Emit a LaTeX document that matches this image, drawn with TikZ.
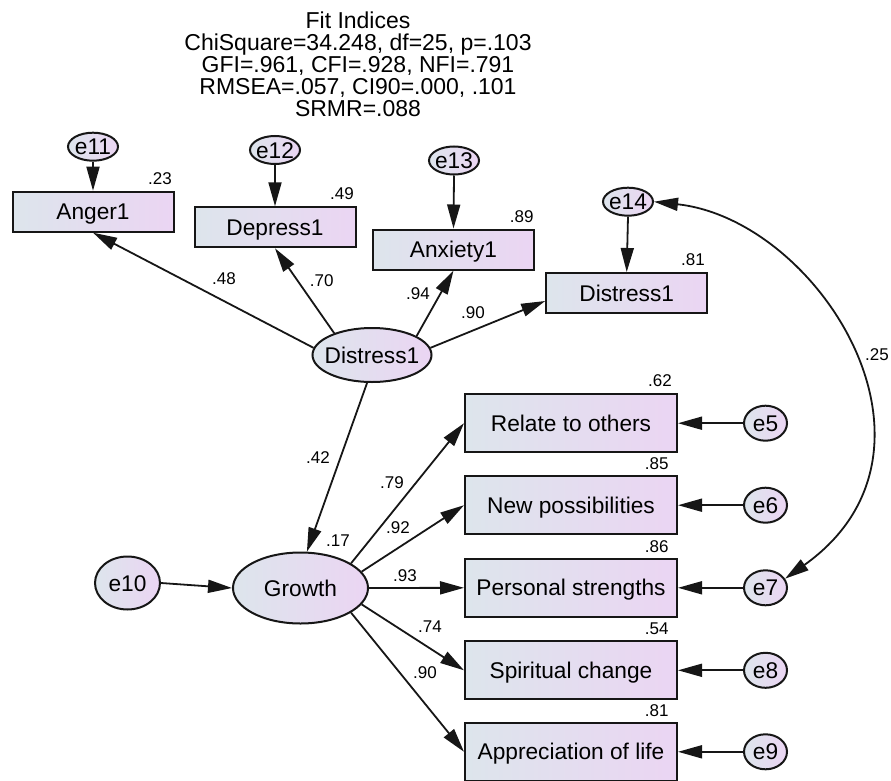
\documentclass[tikz,border=0pt]{standalone}
\usepackage{fontspec}
\setmainfont{Liberation Sans}
\usetikzlibrary{arrows.meta,shapes.geometric}
\definecolor{lnc}{RGB}{22,22,22}
\definecolor{fillL}{RGB}{221,229,236}
\definecolor{fillR}{RGB}{235,213,243}
\newcommand\fbig{\fontsize{22.7}{21.7}\selectfont}
\newcommand\ftitle{\fontsize{23}{22}\selectfont}
\newcommand\fnum{\fontsize{17}{19}\selectfont}
\begin{document}
\begin{tikzpicture}[x=1pt,y=-1pt,
  conn/.style={draw=lnc, line width=1.8pt, -{Triangle[length=24pt,width=13pt]}},
  biconn/.style={draw=lnc, line width=1.8pt, {Triangle[length=24pt,width=13pt]}-{Triangle[length=24pt,width=13pt]}},
  obs/.style={rectangle, draw=lnc, line width=2pt, left color=fillL, right color=fillR, inner sep=0pt, font=\fbig, text height=16.3pt, text depth=0pt},
  topbox/.style={obs, minimum width=161pt, minimum height=40pt},
  rbox/.style={obs, minimum width=212pt, minimum height=57.7pt},
  lat/.style={ellipse, draw=lnc, line width=2pt, left color=fillL, right color=fillR, inner sep=0pt},
  errt/.style={lat, minimum width=50pt, minimum height=28pt},
  errr/.style={lat, minimum width=43pt, minimum height=35pt},
  lbl/.style={font=\fbig, text height=16.3pt, text depth=0pt, inner sep=0pt},
  num/.style={font=\fnum, text height=12.2pt, text depth=0pt, inner sep=0pt},
]
\useasboundingbox (0,0) rectangle (891,781);

% title
\node[font=\ftitle, align=center, inner sep=0pt] (title) at (358,64)
  {Fit Indices\\ChiSquare=34.248, df=25, p=.103\\GFI=.961, CFI=.928, NFI=.791\\RMSEA=.057, CI90=.000, .101\\SRMR=.088};

% top error terms
\node[errt, label={[lbl,name=e11t]center:e11}] (e11) at (93,146.7) {};
\node[errt, label={[lbl,name=e12t]center:e12}] (e12) at (275,150) {};
\node[errt, label={[lbl,name=e13t]center:e13}] (e13) at (454,160.5) {};
\node[errt, label={[lbl,name=e14t]center:e14}] (e14) at (628,201.7) {};

% top indicators
\node[topbox] (anger) at (93,211.7) {Anger1};
\node[topbox] (depress) at (275,227.3) {Depress1};
\node[topbox] (anxiety) at (453.5,249.5) {Anxiety1};
\node[topbox] (dbox) at (626.7,293) {Distress1};

% latent variables
\node[lat, minimum width=119pt, minimum height=54pt, label={[lbl,name=distt]center:Distress1}] (dist) at (372,355) {};
\node[lat, minimum width=135pt, minimum height=71pt, label={[lbl,name=growtht]center:Growth}] (growth) at (300.5,588) {};
\node[lat, minimum width=65pt, minimum height=53pt, label={[lbl,name=e10t]center:e10}] (e10) at (127.5,583) {};

% right indicators
\node[rbox] (relate) at (571,423.2) {Relate to others};
\node[rbox] (newp) at (571,505.2) {New possibilities};
\node[rbox] (pers) at (571,587.8) {Personal strengths};
\node[rbox] (spir) at (571,670.3) {Spiritual change};
\node[rbox] (appr) at (571,751.8) {Appreciation of life};

% right error terms
\node[errr, label={[lbl,name=e5t]center:e5}] (e5) at (765.5,423.2) {};
\node[errr, label={[lbl,name=e6t]center:e6}] (e6) at (765.5,505.2) {};
\node[errr, label={[lbl,name=e7t]center:e7}] (e7) at (765.5,587.8) {};
\node[errr, label={[lbl,name=e8t]center:e8}] (e8) at (765.5,670.3) {};
\node[errr, label={[lbl,name=e9t]center:e9}] (e9) at (765.5,751.8) {};

% connectors
\draw[conn] (e11.south) -- (anger.north);
\draw[conn] (e12.south) -- (depress.north);
\draw[conn] (e13.south) -- (anxiety.north);
\draw[conn] (e14.south) -- (dbox.north);
\draw[conn] (dist.173) -- (anger.south);
\draw[conn] (dist.150) -- (depress.south);
\draw[conn] (dist.23) -- (anxiety.south);
\draw[conn] (dist.7) -- ([yshift=-8pt]dbox.west);
\draw[conn] (dist.-100) -- (growth.80);
\draw[conn] (e10.east) -- (growth.west);
\draw[conn] (growth.26) -- (relate.west);
\draw[conn] (growth.15) -- (newp.west);
\draw[conn] (growth.east) -- (pers.west);
\draw[conn] (growth.-15) -- (spir.west);
\draw[conn] (growth.-26) -- (appr.west);
\draw[conn] (e5.west) -- (relate.east);
\draw[conn] (e6.west) -- (newp.east);
\draw[conn] (e7.west) -- (pers.east);
\draw[conn] (e8.west) -- (spir.east);
\draw[conn] (e9.west) -- (appr.east);
\draw[biconn] (e14.east) .. controls +(165,18) and +(180,-128) .. (e7.25);

% coefficients
\node[num] (r23) at (160,178.3) {.23};
\node[num] (r49) at (342,193.3) {.49};
\node[num] (r89) at (521.7,216) {.89};
\node[num] (r81a) at (693,259) {.81};
\node[num] (r62) at (660,380) {.62};
\node[num] (r85) at (656.7,463) {.85};
\node[num] (r86) at (656.7,546) {.86};
\node[num] (r54) at (656.7,628) {.54};
\node[num] (r81b) at (656.7,710) {.81};
\node[num] (p48) at (224,278) {.48};
\node[num] (p70) at (321.7,280) {.70};
\node[num] (p94) at (418,293) {.94};
\node[num] (p90a) at (473,312) {.90};
\node[num] (p42) at (318,457) {.42};
\node[num] (r17) at (338,540) {.17};
\node[num] (p79) at (392,482) {.79};
\node[num] (p92) at (398,527) {.92};
\node[num] (p93) at (405,575) {.93};
\node[num] (p74) at (430,626) {.74};
\node[num] (p90b) at (425,672) {.90};
\node[num] (c25) at (877,354) {.25};
\end{tikzpicture}
\end{document}
